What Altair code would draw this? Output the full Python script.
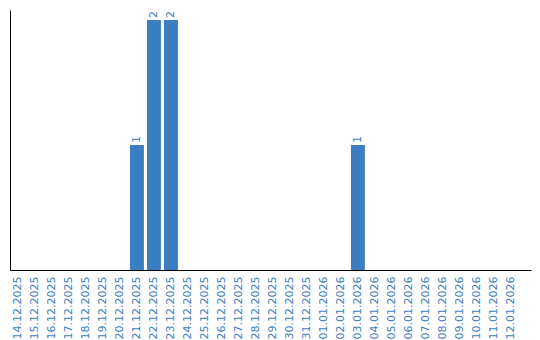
import altair as alt
import pandas as pd

dates = ["14.12.2025", "15.12.2025", "16.12.2025", "17.12.2025", "18.12.2025",
         "19.12.2025", "20.12.2025", "21.12.2025", "22.12.2025", "23.12.2025",
         "24.12.2025", "25.12.2025", "26.12.2025", "27.12.2025", "28.12.2025",
         "29.12.2025", "30.12.2025", "31.12.2025", "01.01.2026", "02.01.2026",
         "03.01.2026", "04.01.2026", "05.01.2026", "06.01.2026", "07.01.2026",
         "08.01.2026", "09.01.2026", "10.01.2026", "11.01.2026", "12.01.2026"]
counts = [0, 0, 0, 0, 0, 0, 0, 1, 2, 2,
          0, 0, 0, 0, 0, 0, 0, 0, 0, 0,
          1, 0, 0, 0, 0, 0, 0, 0, 0, 0]

df = pd.DataFrame({"date": dates, "count": counts})

BLUE = "#3b7ec2"

x = alt.X("date:N", sort=dates,
          scale=alt.Scale(paddingInner=0.18, paddingOuter=0.415, align=0.07),
          axis=alt.Axis(title=None, ticks=False, labelAngle=-90, labelColor=BLUE,
                        labelFont="DejaVu Sans", labelFontSize=11, labelPadding=6,
                        domainColor="black", domainWidth=1, grid=False))
y = alt.Y("count:Q", scale=alt.Scale(domain=[0, 2.08], nice=False),
          axis=alt.Axis(title=None, labels=False, ticks=False, grid=False,
                        domainColor="black", domainWidth=1))

bars = alt.Chart(df).mark_bar(color=BLUE).encode(x=x, y=y)
texts = alt.Chart(df).transform_filter("datum.count > 0").mark_text(
    angle=270, align="left", baseline="middle", dx=2,
    font="DejaVu Sans", fontSize=11, color=BLUE
).encode(x=x, y=y, text="count:Q")

chart = alt.layer(bars, texts).properties(
    width=521, height=260,
    background="white",
    autosize=alt.AutoSizeParams(type="none"),
    padding={"left": 10, "top": 10, "right": 9, "bottom": 70}
).configure_view(strokeWidth=0)

chart.save("out.html", embed_options={"renderer": "svg", "actions": False})
